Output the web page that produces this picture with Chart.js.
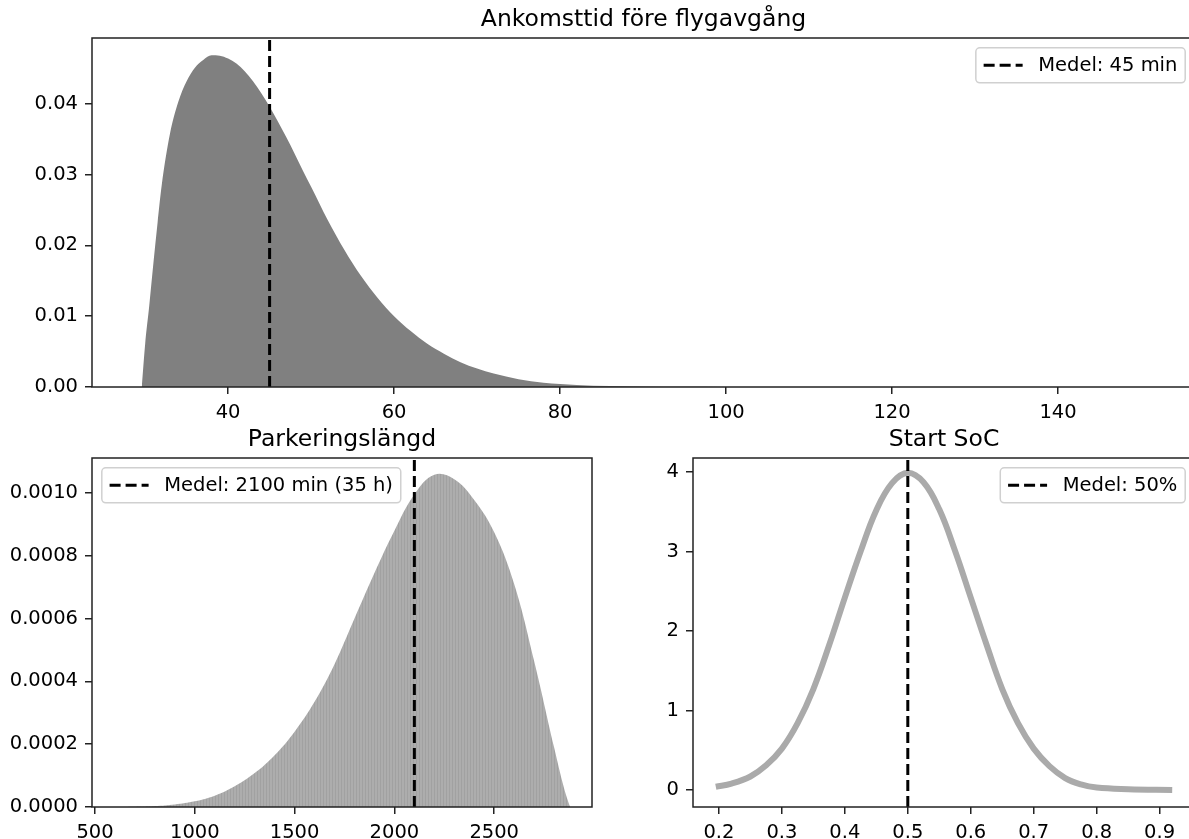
<!DOCTYPE html>
<html>
<head>
<meta charset="utf-8">
<script src="https://cdn.jsdelivr.net/npm/chart.js@4.4.1/dist/chart.umd.min.js"></script>
<style>
  html, body { margin: 0; padding: 0; background: #fff; overflow: hidden; width: 1189px; height: 839px; }
  .panel { position: absolute; }
</style>
</head>
<body>
<div class="panel" style="left:0;top:0"><canvas id="arrival" width="1195" height="420"></canvas></div>
<div class="panel" style="left:0;top:420px"><canvas id="parking" width="600" height="419"></canvas></div>
<div class="panel" style="left:600px;top:420px"><canvas id="soc" width="595" height="419"></canvas></div>

<script>
/* ── Data ──────────────────────────────────────────────── */

// Ankomsttid före flygavgång (min, täthet)
const arrivalX = [29.6, 30, 30.5, 31, 31.5, 32, 33, 34, 35, 36, 37, 38, 39, 40, 41, 42, 43, 44, 45, 46, 47, 48, 49, 50,
                  52, 54, 56, 58, 60, 62, 64, 66, 68, 70, 72, 75, 78, 82, 86, 90, 95, 100, 120, 150.4];
const arrivalY = [0, 0.006, 0.0115, 0.0175, 0.0232, 0.0285, 0.0358, 0.0403, 0.0432, 0.0451, 0.0462, 0.04685, 0.0468, 0.0464,
                  0.0457, 0.0446, 0.0432, 0.0415, 0.0396, 0.0375, 0.0353, 0.0330, 0.0306, 0.0283,
                  0.0236, 0.0194, 0.0157, 0.0126, 0.0100, 0.0079, 0.0061, 0.0047, 0.0035, 0.0026, 0.0019,
                  0.0011, 0.0006, 0.0003, 0.00015, 0.00007, 0.00002, 0, 0, 0];
const arrivalMean = 45;
const arrivalXTicks = [40, 60, 80, 100, 120, 140];
const arrivalYTicks = [0, 0.01, 0.02, 0.03, 0.04];

// Parkeringslängd (min, täthet)
const parkingX = [600, 700, 800, 900, 1000, 1100, 1200, 1300, 1400, 1500, 1600, 1700, 1800, 1900,
                  2000, 2100, 2200, 2300, 2400, 2500, 2600, 2700, 2800, 2850, 2880];
const parkingY = [0, 0.000001, 0.000003, 0.000008, 0.000018, 0.000036, 0.000066, 0.000108, 0.000165, 0.000240,
                  0.000335, 0.000455, 0.000600, 0.000745, 0.000880, 0.000995, 0.001058, 0.001044, 0.000978,
                  0.000875, 0.000710, 0.000465, 0.000190, 0.000060, 0];
const parkingMean = 2100;
const parkingXTicks = [500, 1000, 1500, 2000, 2500];
const parkingYTicks = [0, 0.0002, 0.0004, 0.0006, 0.0008, 0.0010];

// Start SoC (andel, täthet)
const socX = [0.195, 0.22, 0.25, 0.275, 0.30, 0.325, 0.35, 0.375, 0.40, 0.425, 0.45, 0.475, 0.50, 0.525,
              0.55, 0.575, 0.60, 0.625, 0.65, 0.675, 0.70, 0.725, 0.75, 0.775, 0.80, 0.85, 0.92];
const socY = [0.04, 0.08, 0.17, 0.31, 0.52, 0.84, 1.27, 1.82, 2.42, 3.00, 3.52, 3.86, 3.99, 3.87,
              3.53, 3.01, 2.42, 1.83, 1.27, 0.84, 0.52, 0.30, 0.15, 0.07, 0.03, 0.01, 0.0];
const socMean = 0.5;
const socXTicks = [0.2, 0.3, 0.4, 0.5, 0.6, 0.7, 0.8, 0.9];
const socYTicks = [0, 1, 2, 3, 4];

/* ── Shared look ───────────────────────────────────────── */
const FONT = '"DejaVu Sans", "Liberation Sans", sans-serif';
const TICK_SIZE = 19.5;
Chart.defaults.font.family = FONT;
Chart.defaults.color = '#000';

// thin vertical stripes, like the many narrow bars in the histogram
function stripePattern() {
  const c = document.createElement('canvas');
  c.width = 3; c.height = 4;
  const g = c.getContext('2d');
  g.fillStyle = '#adadad'; g.fillRect(0, 0, 3, 4);
  g.fillStyle = '#a1a1a1'; g.fillRect(2, 0, 1, 4);
  return g.createPattern(c, 'repeat');
}

/* ── Frame + matplotlib-like legend ────────────────────── */
const mplPlugin = {
  id: 'mpl',
  afterDraw(chart, args, opts) {
    const { ctx, chartArea: a } = chart;
    ctx.save();
    ctx.strokeStyle = '#222';
    ctx.lineWidth = 1.5;
    ctx.strokeRect(a.left, a.top, a.right - a.left, a.bottom - a.top);

    const ds = chart.data.datasets[0];
    ctx.font = `${TICK_SIZE}px ${FONT}`;
    const tw = ctx.measureText(ds.label).width;
    const pad = 7.8, handle = 39, gap = 15.6, h = 35;
    const w = pad + handle + gap + tw + pad;
    const x = opts.side === 'left' ? a.left + 9.8 : a.right - 9.8 - w;
    const y = a.top + 9.8;

    ctx.beginPath();
    ctx.roundRect(x, y, w, h, 4);
    ctx.fillStyle = 'rgba(255,255,255,0.8)';
    ctx.fill();
    ctx.strokeStyle = '#d0d0d0';
    ctx.lineWidth = 1.5;
    ctx.stroke();

    ctx.beginPath();
    ctx.setLineDash(ds.borderDash);
    ctx.moveTo(x + pad, y + h / 2);
    ctx.lineTo(x + pad + handle, y + h / 2);
    ctx.strokeStyle = ds.borderColor;
    ctx.lineWidth = ds.borderWidth;
    ctx.stroke();
    ctx.setLineDash([]);

    ctx.fillStyle = '#000';
    ctx.textBaseline = 'middle';
    ctx.fillText(ds.label, x + pad + handle + gap, y + h / 2 + 1);
    ctx.restore();
  }
};

function axis(min, max, ticks, fmt, fit) {
  return {
    type: 'linear',
    min, max,
    afterBuildTicks: s => { s.ticks = ticks.map(v => ({ value: v })); },
    afterFit: fit,
    ticks: { callback: fmt, font: { size: TICK_SIZE }, color: '#000', padding: 7, maxRotation: 0, autoSkip: false },
    grid: { drawOnChartArea: false, drawTicks: true, tickLength: 7, color: '#222', lineWidth: 1.5 },
    border: { display: false }
  };
}

function panel(id, o) {
  return new Chart(document.getElementById(id), {
    type: 'line',
    data: {
      datasets: [
        {
          label: o.meanLabel,
          data: [{ x: o.mean, y: o.yMin }, { x: o.mean, y: o.yMax }],
          borderColor: '#000', borderWidth: 3, borderDash: [11, 5],
          pointRadius: 0, fill: false
        },
        {
          label: o.title,
          data: o.xs.map((x, i) => ({ x, y: o.ys[i] })),
          borderColor: o.line || 'rgba(0,0,0,0)',
          borderWidth: o.lineWidth || 0,
          backgroundColor: o.fill || 'rgba(0,0,0,0)',
          fill: o.fill ? 'origin' : false,
          pointRadius: 0,
          cubicInterpolationMode: o.monotone ? 'monotone' : 'default',
          tension: 0.4
        }
      ]
    },
    options: {
      responsive: false,
      animation: false,
      devicePixelRatio: 1,
      layout: { padding: { left: 0, right: o.padRight, top: 0, bottom: 0 } },
      scales: {
        x: axis(o.xMin, o.xMax, o.xTicks, o.xFmt, s => { s.height = o.xHeight; }),
        y: axis(o.yMin, o.yMax, o.yTicks, o.yFmt, s => { s.width = o.yWidth; })
      },
      plugins: {
        legend: { display: false },
        tooltip: { enabled: false },
        title: {
          display: true, text: o.title, fullSize: false, color: '#000',
          font: { size: 23.5, weight: 'normal' },
          padding: { top: 6, bottom: 3.8 }
        },
        mpl: { side: o.legendSide }
      }
    },
    plugins: [mplPlugin]
  });
}

panel('arrival', {
  title: 'Ankomsttid före flygavgång',
  xs: arrivalX, ys: arrivalY, fill: '#808080', monotone: true,
  mean: arrivalMean, meanLabel: 'Medel: 45 min',
  xMin: 23.6, xMax: 156.5, yMin: 0, yMax: 0.0493,
  xTicks: arrivalXTicks, yTicks: arrivalYTicks,
  xFmt: v => String(v), yFmt: v => v.toFixed(2),
  yWidth: 92, xHeight: 33, padRight: 0, legendSide: 'right'
});

panel('parking', {
  title: 'Parkeringslängd',
  xs: parkingX, ys: parkingY, fill: stripePattern(), monotone: false,
  mean: parkingMean, meanLabel: 'Medel: 2100 min (35 h)',
  xMin: 485, xMax: 2990, yMin: 0, yMax: 0.0011115,
  xTicks: parkingXTicks, yTicks: parkingYTicks,
  xFmt: v => String(v), yFmt: v => v.toFixed(4),
  yWidth: 92, xHeight: 32, padRight: 8, legendSide: 'left'
});

panel('soc', {
  title: 'Start SoC',
  xs: socX, ys: socY, line: '#aaaaaa', lineWidth: 6, monotone: false,
  mean: socMean, meanLabel: 'Medel: 50%',
  xMin: 0.1588, xMax: 0.9562, yMin: -0.214, yMax: 4.176,
  xTicks: socXTicks, yTicks: socYTicks,
  xFmt: v => v.toFixed(1), yFmt: v => String(v),
  yWidth: 93, xHeight: 32, padRight: 0, legendSide: 'right'
});
</script>
</body>
</html>
